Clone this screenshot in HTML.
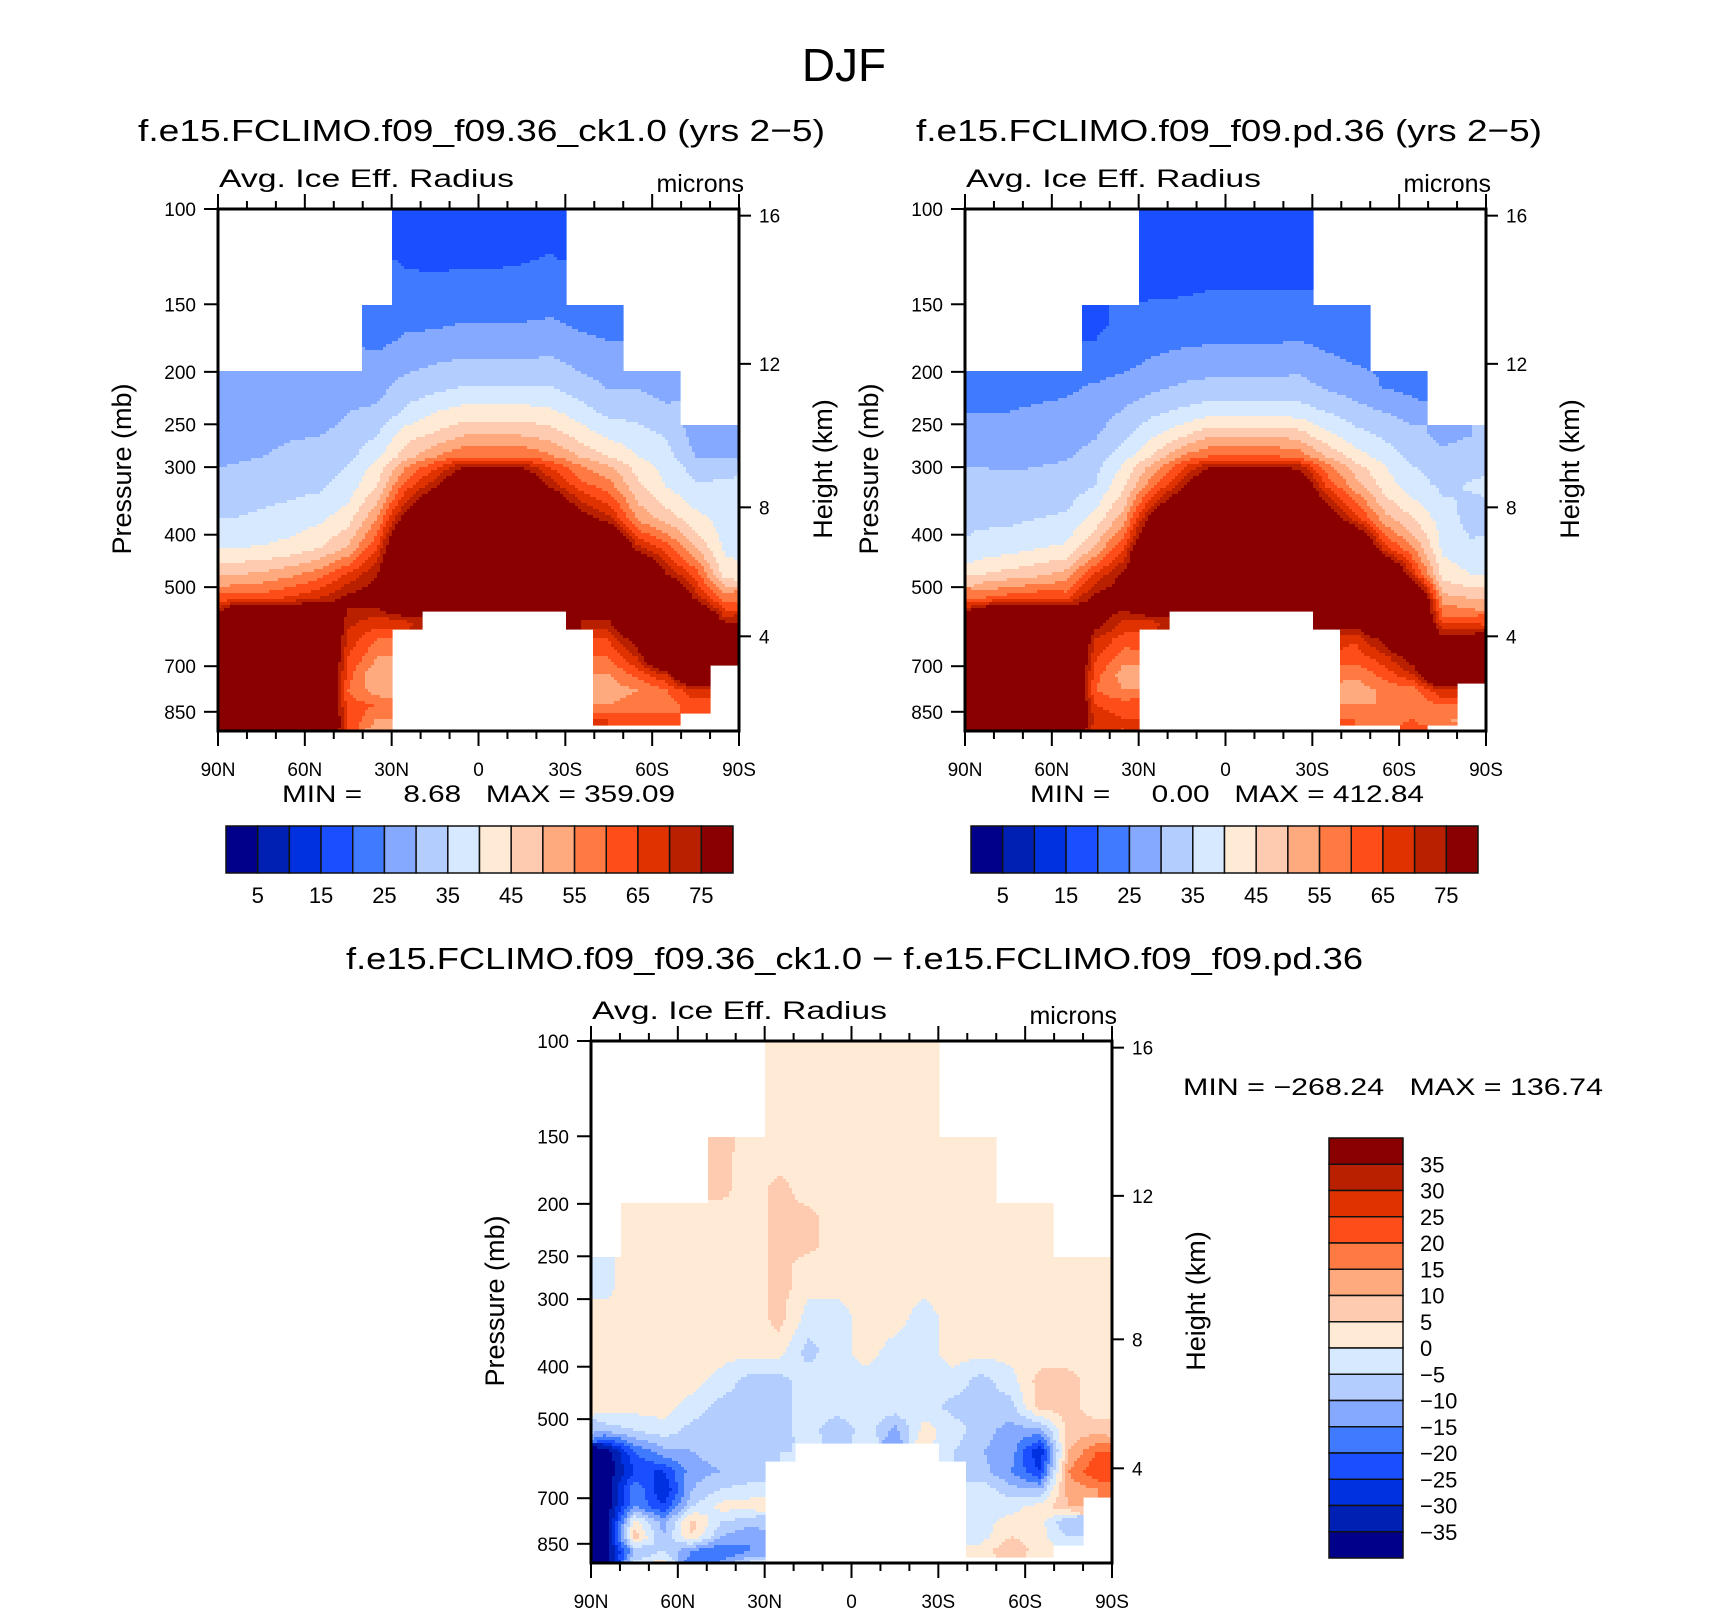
<!DOCTYPE html>
<html><head><meta charset="utf-8"><style>
html,body{margin:0;padding:0;background:#fff}
svg text{font-family:"Liberation Sans",sans-serif;fill:#000}
.pre{white-space:pre}
</style></head><body>
<svg id="fig" width="1710" height="1610" viewBox="0 0 1710 1610" xmlns="http://www.w3.org/2000/svg">
<rect x="0" y="0" width="1710" height="1610" fill="#fff"/>
<text x="844" y="81" font-size="46" text-anchor="middle">DJF</text>
<text x="138" y="141" font-size="31" textLength="687" lengthAdjust="spacingAndGlyphs">f.e15.FCLIMO.f09_f09.36_ck1.0 (yrs 2−5)</text>
<text x="916" y="141" font-size="31" textLength="626" lengthAdjust="spacingAndGlyphs">f.e15.FCLIMO.f09_f09.pd.36 (yrs 2−5)</text>
<text x="346" y="969" font-size="31" textLength="1017" lengthAdjust="spacingAndGlyphs">f.e15.FCLIMO.f09_f09.36_ck1.0 − f.e15.FCLIMO.f09_f09.pd.36</text>
<g id="panels"></g>
</svg>
<script>
// ---------- data ----------
const latCenters = [85,75,65,55,45,35,25,15,5,-5,-15,-25,-35,-45,-55,-65,-75,-85];
const pressureEdges = [100,125,150,175,200,225,250,275,300,350,400,450,500,550,600,650,700,750,800,850,900,925];
const pressureTicks = [100,150,200,250,300,400,500,700,850];
const heightTicks = [16,12,8,4];
const latTickLabels = ["90N","60N","30N","0","30S","60S","90S"];
const absLevels = [5,10,15,20,25,30,35,40,45,50,55,60,65,70,75];
const absLabels = ["5","15","25","35","45","55","65","75"];
const diffLevels = [-35,-30,-25,-20,-15,-10,-5,0,5,10,15,20,25,30,35];
const diffLabels = ["35","30","25","20","15","10","5","0","−5","−10","−15","−20","−25","−30","−35"];
const N = null;
const ctlValues = [
[N,N,N,N,N,N,18,17,17,17,18,19,N,N,N,N,N,N],
[N,N,N,N,N,N,21,21,21.5,21.5,21.5,22,N,N,N,N,N,N],
[N,N,N,N,N,22,24,24,25,25,25,25.5,24,23,N,N,N,N],
[N,N,N,N,N,25.5,27.5,29,29.5,29.5,29.5,30,28,27,N,N,N,N],
[27,25,26,26,27.5,28,32,33,35,35,35,35,32,29.5,29.5,28,N,N],
[27,27,28,27,30,31,36,40,42,42,42,41,37.5,33.5,33.5,31,N,N],
[27,28,29.5,30,32,35,43,46,50,50,50,48,43,39,37,34.5,28,28],
[29,30,31.5,32,33.5,39,48,55,60,60,60,56,50,45,40,37,30,29.5],
[32,33,33.5,34,37,45,62,73,90,90,90,73,62,57,46,39.5,35.5,36],
[35,36,37,39,43,55,80,100,100,100,100,100,80,72,54,48,42,37.5],
[40,40.5,42,45,51,65,100,100,100,100,100,100,100,100,72,63,50,39],
[50,51,54,58,66,75,100,100,100,100,100,100,100,100,100,75,63,43],
[62,63,66,70,77,80,100,100,100,100,100,100,100,100,100,100,73,58],
[100,100,100,100,72,68,70,N,N,N,N,N,75,75,100,100,100,72],
[100,100,100,100,68,60,N,N,N,N,N,N,N,65,80,100,100,100],
[100,100,100,100,65,55,N,N,N,N,N,N,N,60,70,100,100,100],
[100,100,100,100,62,50,N,N,N,N,N,N,N,55,62,70,100,N],
[100,100,100,100,60,52,N,N,N,N,N,N,N,52,55,60,70,N],
[100,100,100,100,62,60,N,N,N,N,N,N,N,55,58,58,62,N],
[100,100,100,100,65,55,N,N,N,N,N,N,N,65,62,62,N,N],
[100,100,100,100,65,50,N,N,N,N,N,N,N,N,N,N,N,N]];
const pdValues = [
[N,N,N,N,N,N,17,17,17,17,17,17,N,N,N,N,N,N],
[N,N,N,N,N,N,19,19,19.5,19.5,19.5,19.5,N,N,N,N,N,N],
[N,N,N,N,19,21,21.5,22,22.5,22.5,22.5,23,22,22,N,N,N,N],
[N,N,N,N,21,23,25,26,26.5,26.5,26.5,27,25.5,24,N,N,N,N],
[24,22,23,24,25.5,27,28.5,30.5,31.5,31.5,31.5,32,29,27.5,24.5,23,N,N],
[25,25,26,26.5,27.5,30.5,34,36,38,38,38,37.5,35,32,30,28,N,N],
[27,27,27.5,28,29.5,34,39.5,44,49.5,49.5,49.5,48,41.5,37,34,31.5,29,30],
[29,28.5,29,29.5,32,38,45.5,56,61,61,61,59,50,42.5,38,33.5,31,32],
[31,31,31,32,35,44,59,72,90,90,90,88,64,52,42.5,37,34,35.5],
[34,34,35,36,42,53,80,100,100,100,100,100,85,68,52,45,37.5,33],
[37,38,40,41,51,65,100,100,100,100,100,100,100,100,67,55,39,36],
[45,47,49,52,66,77,100,100,100,100,100,100,100,100,100,68,43,40],
[60,63,65,63.5,78,80,100,100,100,100,100,100,100,100,100,100,52,50],
[100,100,100,100,80,70,70,N,N,N,N,N,80,80,100,100,62,62],
[100,100,100,100,70,62,N,N,N,N,N,N,N,66,78,100,78,80],
[100,100,100,100,66,57,N,N,N,N,N,N,N,62,68,80,100,100],
[100,100,100,100,62,52,N,N,N,N,N,N,N,56,62,70,100,100],
[100,100,100,100,60,55,N,N,N,N,N,N,N,52,56,58,70,N],
[100,100,100,100,65,62,N,N,N,N,N,N,N,55,55,56,60,N],
[100,100,100,100,68,65,N,N,N,N,N,N,N,60,58,60,55,N],
[100,100,100,100,65,65,N,N,N,N,N,N,N,N,N,62,N,N]];
const diffValues = [
[N,N,N,N,N,N,2,2,2,2,2,2,N,N,N,N,N,N],
[N,N,N,N,N,N,2,2,2,2,2,2,N,N,N,N,N,N],
[N,N,N,N,7,2,2,2,2,2,2,2,2,2,N,N,N,N],
[N,N,N,N,7,2,7,2,2,2,2,2,2,2,N,N,N,N],
[N,2,2,2,2,2,7,7,2,2,2,2,2,2,2,2,N,N],
[N,2,2,2,2,2,7,7,2,2,2,2,2,2,2,2,N,N],
[-1,2,2,2,2,2,7,2,2,2,2,2,2,2,2,2,2,2],
[-1,2,2,2,2,2,7,2,2,2,2,2,2,2,2,2,2,2],
[1,2,2,2,2,2,7,-2,-2,2,2,-2,2,2,2,2,2,2],
[2,2,2,2,2,2,2,-7,-2,2,-2,-2,2,2,2,2,2,2],
[2,2,2,2,-2,-7,-7,-2,-2,-2,-2,-2,-2,-7,-2,7,7,2],
[2,2,2,-2,-7,-8,-7,-2,-2,-2,-2,-2,-7,-7,-7,7,7,2],
[-8,-5,-2,-7,-8,-8,-7,-2,-10,-2,-12,2,-2,-8,-12,-12,7,8],
[-40,-20,-12,-10,-8,-8,-5,N,N,N,N,N,-5,-10,-12,-30,10,20],
[-40,-25,-25,-12,-10,-10,N,N,N,N,N,N,N,-8,-15,-25,15,25],
[-40,-15,-30,-10,-5,-2,N,N,N,N,N,N,N,-2,-8,-10,12,15],
[-40,-15,-25,-5,2,2,N,N,N,N,N,N,N,-2,-2,2,10,N],
[-40,2,-12,7,-5,-8,N,N,N,N,N,N,N,-2,2,2,-10,N],
[-40,8,-10,5,-10,-15,N,N,N,N,N,N,N,-2,5,2,-5,N],
[-40,-10,-5,-15,-20,-15,N,N,N,N,N,N,N,2,10,2,N,N],
[-40,-5,2,-20,-15,-5,N,N,N,N,N,N,N,N,N,N,N,N]];
const palette = ["#00008a","#0020b4","#0031e0","#1a4fff","#3f7aff","#84a9ff","#b4cdff","#d6e9ff","#ffead6","#ffcbb0","#ffa97f","#ff7a42","#ff4d1a","#e03200","#b82000","#8a0000"];

// ---------- helpers ----------
const NS = "http://www.w3.org/2000/svg";
const root = document.getElementById('panels');
function mk(tag, attrs, parent, txt){
  const e = document.createElementNS(NS, tag);
  for (const k in attrs) e.setAttribute(k, attrs[k]);
  if (txt !== undefined) e.textContent = txt;
  (parent || root).appendChild(e);
  return e;
}
const W = 521, H = 522, PPD = 541;
function yOfP(y0, p){ return y0 + PPD * Math.log10(p/100); }
function xOfLat(x0, lat){ return x0 + (90 - lat) / 180 * W; }
function pOfHeight(km){
  const z = km*1000;
  if (z <= 11000) return 1013.25*Math.pow(1 - 2.25577e-5*z, 5.25588);
  return 226.32*Math.exp(-(z-11000)/6341.6);
}
function colorIndex(v, levels){ let i=0; for (const l of levels) if (v >= l) i++; return i; }

function drawField(g, x0, y0, grid, levels){
  const nr = grid.length, nc = latCenters.length;
  const colW = W / nc;
  const rowTop = pressureEdges.map(p => yOfP(y0, p));
  function val(r,c){ if (r<0||r>=nr||c<0||c>=nc) return null; return grid[r][c]; }
  const step = 3;
  for (let py = y0; py < y0 + H; py += step){
    const yc = py + step/2;
    let r = 0; while (r < nr-1 && yc >= rowTop[r+1]) r++;
    const u = r + (yc - rowTop[r]) / (rowTop[r+1] - rowTop[r]) - 0.5;
    let runStart = null, runColor = null;
    const flush = (endX) => {
      if (runColor !== null){
        const rc = mk('rect', {x: runStart.toFixed(1), y: py, width: (endX-runStart+0.6).toFixed(1), height: step+0.6, fill: runColor}, g);
        
        
      }
    };
    for (let px = x0; px < x0 + W; px += step){
      const xc = px + step/2;
      const c = Math.min(nc-1, Math.floor((xc - x0)/colW));
      const v0 = val(r,c);
      let col = null;
      if (v0 !== null){
        const v = (xc - x0)/colW - 0.5;
        const r0 = Math.floor(u), c0 = Math.floor(v);
        const fr = u - r0, fc = v - c0;
        const g00 = val(r0,c0), g01 = val(r0,c0+1), g10 = val(r0+1,c0), g11 = val(r0+1,c0+1);
        const a = g00===null?v0:g00, b = g01===null?v0:g01, cc = g10===null?v0:g10, d = g11===null?v0:g11;
        const iv = a*(1-fr)*(1-fc) + b*(1-fr)*fc + cc*fr*(1-fc) + d*fr*fc;
        col = palette[colorIndex(iv, levels)];
      }
      if (col !== runColor){ flush(px); runStart = px; runColor = col; }
    }
    flush(x0 + W);
  }
}

function drawAxes(g, x0, y0, labels){
  const fs = 19;
  for (let lat = 90; lat >= -90; lat -= 10){
    const x = xOfLat(x0, lat);
    const major = (lat % 30 === 0);
    const len = major ? 15 : 8;
    const t1 = mk('line', {x1:x, x2:x, y1:y0, y2:y0-len, stroke:'#000','stroke-width':2}, g);
     
    const t2 = mk('line', {x1:x, x2:x, y1:y0+H, y2:y0+H+len, stroke:'#000','stroke-width':2}, g);
     
  }
  latTickLabels.forEach((lb, i) => {
    const x = xOfLat(x0, 90 - i*30);
    const t = mk('text', {x:x, y:y0+H+45, 'font-size':fs, 'text-anchor':'middle'}, g, lb);
     
  });
  pressureTicks.forEach(p => {
    const y = yOfP(y0, p);
    const t = mk('line', {x1:x0, x2:x0-14, y1:y, y2:y, stroke:'#000','stroke-width':2}, g);
     
    const l = mk('text', {x:x0-22, y:y+7, 'font-size':fs, 'text-anchor':'end'}, g, String(p));
     
  });
  heightTicks.forEach(h => {
    const y = yOfP(y0, pOfHeight(h));
    const t = mk('line', {x1:x0+W, x2:x0+W+12, y1:y, y2:y, stroke:'#000','stroke-width':2}, g);
     
    const l = mk('text', {x:x0+W+20, y:y+7, 'font-size':fs}, g, String(h));
     
  });
  const fr = mk('rect', {x:x0, y:y0, width:W, height:H, fill:'none', stroke:'#000', 'stroke-width':3}, g);
   
  const cy = y0 + 260;
  const pt = mk('text', {x:0, y:0, 'font-size':27, 'text-anchor':'middle', transform:`translate(${x0-87},${cy}) rotate(-90)`}, g, 'Pressure (mb)');
   
  const ht = mk('text', {x:0, y:0, 'font-size':27, 'text-anchor':'middle', transform:`translate(${x0+W+93},${cy}) rotate(-90)`}, g, 'Height (km)');
   
  const a = mk('text', {x:x0+1, y:y0-22, 'font-size':25, textLength:295, lengthAdjust:'spacingAndGlyphs'}, g, 'Avg. Ice Eff. Radius');
   
  const m = mk('text', {x:x0+W+5, y:y0-17, 'font-size':25, 'text-anchor':'end'}, g, 'microns');
   
  const mm = mk('text', {x:labels.mx, y:labels.my, 'font-size':24, textLength:labels.mw, lengthAdjust:'spacingAndGlyphs', class:'pre'}, g, labels.minmax);
   
}

function hColorbar(g, x, y){
  const bw = 507/16, bh = 47;
  palette.forEach((c,i) => {
    const r = mk('rect', {x:x+i*bw, y:y, width:bw, height:bh, fill:c, stroke:'#111','stroke-width':1.5}, g);
     
  });
  absLabels.forEach((lb,k) => {
    const t = mk('text', {x:x+(2*k+1)*bw, y:y+77, 'font-size':22, 'text-anchor':'middle'}, g, lb);
     
  });
}
function vColorbar(g, x, y){
  const bw = 74, bh = 420/16;
  palette.slice().reverse().forEach((c,i) => {
    const r = mk('rect', {x:x, y:y+i*bh, width:bw, height:bh, fill:c, stroke:'#111','stroke-width':1.5}, g);
     
  });
  diffLabels.forEach((lb,k) => {
    const t = mk('text', {x:x+91, y:y+(k+1)*bh+8, 'font-size':22}, g, lb);
     
  });
}

const panels = [
  {name:'panel-ctl', x0:218, y0:209, grid:ctlValues, levels:absLevels, lab:{minmax:'MIN =     8.68   MAX = 359.09', mx:282, my:802, mw:393}},
  {name:'panel-pd', x0:965, y0:209, grid:pdValues, levels:absLevels, lab:{minmax:'MIN =     0.00   MAX = 412.84', mx:1030, my:802, mw:394}},
  {name:'panel-diff', x0:591, y0:1041, grid:diffValues, levels:diffLevels, lab:{minmax:'MIN = −268.24   MAX = 136.74', mx:1183, my:1095, mw:420}}
];
panels.forEach(p => {
  const g = mk('g', {});
  
  
  const fg = mk('g', {}, g);
  
  
  drawField(fg, p.x0, p.y0, p.grid, p.levels);
  drawAxes(g, p.x0, p.y0, p.lab);
});
const cb1 = mk('g', {});  
hColorbar(cb1, 226, 826);
const cb2 = mk('g', {});  
hColorbar(cb2, 971, 826);
const cb3 = mk('g', {});  
vColorbar(cb3, 1329, 1138);
</script>
</body></html>
